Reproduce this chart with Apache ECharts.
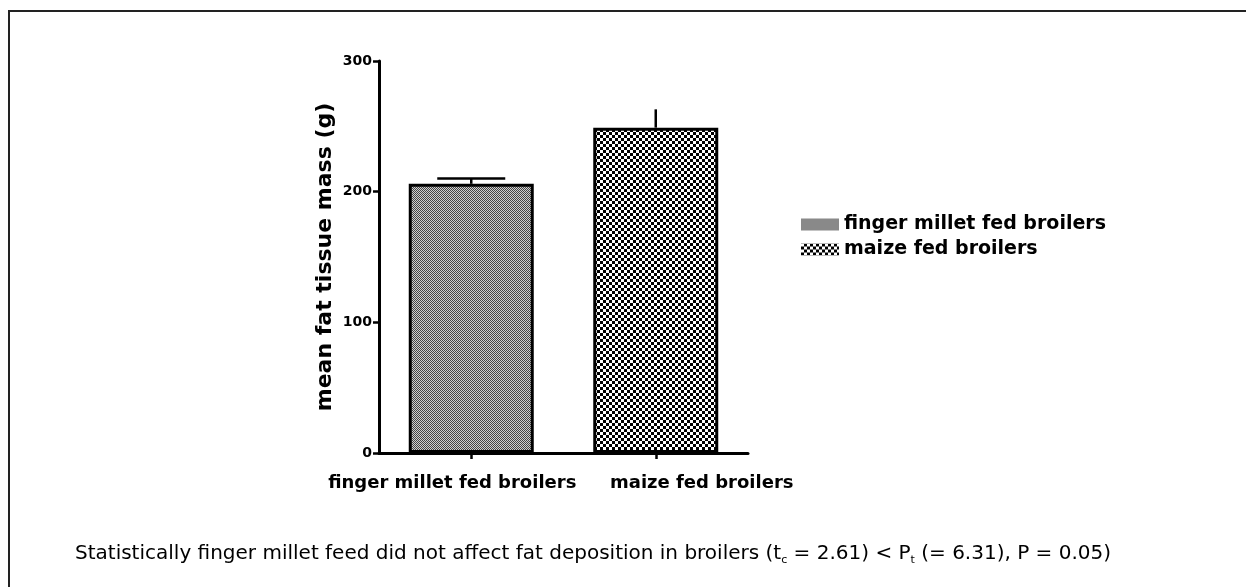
<!DOCTYPE html>
<html>
<head>
<meta charset="utf-8">
<script src="https://cdn.jsdelivr.net/npm/echarts@6/dist/echarts.min.js"></script>
<style>html,body{margin:0;padding:0;background:#fff;}#c{width:1246px;height:587px;}</style>
</head>
<body>
<div id="c"></div>
<script>
const categories = ['finger millet fed broilers', 'maize fed broilers'];
const seriesNames = ['finger millet fed broilers', 'maize fed broilers'];
const meanValues = [206, 249];
const errorValues = [4, 14];
const capWidths = [68, 0];
const yTicks = [0, 100, 200, 300];
const captionParts = ['Statistically finger millet feed did not affect fat deposition in broilers (t', 'c', ' = 2.61) < P', 't', ' (= 6.31), P = 0.05)'];

function makePattern(kind) {
  const c = document.createElement('canvas');
  if (kind === 0) {
    c.width = 2; c.height = 2;
    const g = c.getContext('2d');
    g.fillStyle = '#cfcfcf'; g.fillRect(0, 0, 2, 2);
    g.fillStyle = '#444444'; g.fillRect(0, 0, 1, 1); g.fillRect(1, 1, 1, 1);
  } else {
    c.width = 6; c.height = 6;
    const g = c.getContext('2d');
    g.fillStyle = '#000000'; g.fillRect(0, 0, 6, 6);
    g.fillStyle = '#ffffff'; g.fillRect(0, 0, 3, 3); g.fillRect(3, 3, 3, 3);
  }
  return { image: c, repeat: 'repeat' };
}

const chart = echarts.init(document.getElementById('c'), null, { renderer: 'canvas' });

const barSeries = seriesNames.map((name, i) => ({
  name: name,
  type: 'bar',
  barWidth: 125,
  barGap: '-100%',
  data: categories.map((c, j) => (j === i ? meanValues[i] : '-')),
  itemStyle: { color: makePattern(i), borderColor: '#000', borderWidth: 3 },
  z: 3
}));

const errorSeries = {
  type: 'custom',
  data: meanValues.map((v, i) => [i, v, v + errorValues[i], capWidths[i]]),
  renderItem: function (params, api) {
    const x = api.value(0);
    const p0 = api.coord([x, api.value(1)]);
    const p1 = api.coord([x, api.value(2)]);
    const cw = api.value(3) / 2;
    const children = [{
      type: 'line', shape: { x1: p0[0], y1: p0[1], x2: p1[0], y2: p1[1] },
      style: { stroke: '#000', lineWidth: 2.5 }
    }];
    if (cw > 0) {
      children.push({
        type: 'line', shape: { x1: p1[0] - cw, y1: p1[1], x2: p1[0] + cw, y2: p1[1] },
        style: { stroke: '#000', lineWidth: 2.5 }
      });
    }
    return { type: 'group', children: children };
  },
  z: 2,
  silent: true
};

chart.setOption({
  animation: false,
  backgroundColor: '#fff',
  grid: { left: 379, right: 498, top: 61, bottom: 134, containLabel: false },
  legend: {
    orient: 'vertical',
    left: 796,
    top: 210,
    icon: 'rect',
    itemWidth: 38,
    itemHeight: 12,
    itemGap: 6,
    data: seriesNames,
    itemStyle: { borderWidth: 0 },
    textStyle: { fontFamily: 'DejaVu Sans', fontWeight: 'bold', fontSize: 19, color: '#000' }
  },
  xAxis: {
    type: 'category',
    data: categories,
    axisLine: { lineStyle: { color: '#000', width: 3 } },
    axisTick: { show: true, alignWithLabel: true, length: 6, lineStyle: { color: '#000', width: 2.5 } },
    axisLabel: {
      interval: 0,
      hideOverlap: false,
      margin: 21,
      formatter: function (v, idx) { return '{l' + idx + '|' + v + '}'; },
      rich: {
        l0: { fontFamily: 'DejaVu Sans', fontWeight: 'bold', fontSize: 18, color: '#000', padding: [0, 38, 0, 0] },
        l1: { fontFamily: 'DejaVu Sans', fontWeight: 'bold', fontSize: 18, color: '#000', padding: [0, 0, 6, 92] }
      }
    }
  },
  yAxis: {
    type: 'value',
    min: 0, max: 300, interval: 100,
    name: 'mean fat tissue mass (g)',
    nameLocation: 'middle',
    nameGap: 43,
    nameTextStyle: { fontFamily: 'DejaVu Sans', fontWeight: 'bold', fontSize: 22, color: '#000' },
    axisLine: { show: true, lineStyle: { color: '#000', width: 3 } },
    axisTick: { show: true, length: 6, lineStyle: { color: '#000', width: 2.5 } },
    axisLabel: {
      margin: 7,
      fontFamily: 'DejaVu Sans', fontWeight: 'bold', fontSize: 14, color: '#000',
      formatter: function (v) { return yTicks.indexOf(v) >= 0 ? String(v) : ''; }
    },
    splitLine: { show: false }
  },
  series: barSeries.concat([errorSeries]),
  graphic: [
    {
      type: 'polyline',
      shape: { points: [[9, 600], [9, 11], [1260, 11]] },
      style: { stroke: '#222', lineWidth: 2, fill: null }
    },
    {
      type: 'text',
      left: 75,
      top: 541,
      style: {
        text: '{n|' + captionParts[0] + '}{s|' + captionParts[1] + '}{n|' + captionParts[2] + '}{s|' + captionParts[3] + '}{n|' + captionParts[4] + '}',
        rich: {
          n: { fontFamily: 'DejaVu Sans', fontSize: 20, color: '#111', lineHeight: 26 },
          s: { fontFamily: 'DejaVu Sans', fontSize: 11, color: '#111', lineHeight: 26, padding: [14, 0, 0, 0] }
        }
      }
    }
  ]
});
</script>
</body>
</html>
